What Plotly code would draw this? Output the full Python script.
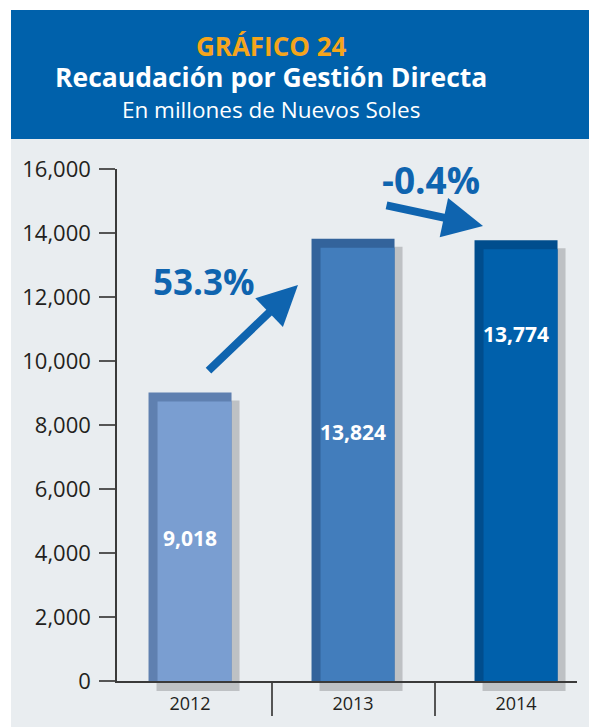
import plotly.graph_objects as go

# ---- data ----
years = ["2012", "2013", "2014"]
values = [9018, 13824, 13774]
value_labels = ["9,018", "13,824", "13,774"]
y_tickvals = [0, 2000, 4000, 6000, 8000, 10000, 12000, 14000, 16000]
y_ticktext = ["0", "2,000", "4,000", "6,000", "8,000", "10,000", "12,000", "14,000", "16,000"]
growth_labels = ["53.3%", "-0.4%"]

# ---- styles ----
W, H = 589, 727
light_colors = ["#7A9ED1", "#427DBC", "#0060AB"]
dark_colors = ["#5F80B0", "#33639B", "#004D8D"]
shadow_color = "#BEC1C4"
label_pos_frac = [0.496, 0.563, 0.787]
FONT = "Open Sans"

def fx(px):
    return px / W

def fy(py):
    return 1 - py / H

UPP = 31.25          # data units per pixel on y
XPP = 1 / 163.0      # category units per pixel on x
bar_w = 83 * XPP

fig = go.Figure()

fig.add_trace(go.Bar(
    x=years, y=[v - 8 * UPP + 10 * UPP for v in values], base=-10 * UPP,
    width=bar_w, offset=-bar_w / 2 + 8 * XPP,
    marker=dict(color=shadow_color, line=dict(width=0)), hoverinfo="skip",
    xaxis="x", yaxis="y"))
fig.add_trace(go.Bar(
    x=years, y=values, width=bar_w, offset=-bar_w / 2,
    marker=dict(color=dark_colors, line=dict(width=0)),
    xaxis="x", yaxis="y"))
fig.add_trace(go.Bar(
    x=years, y=[v - 9 * UPP for v in values], width=bar_w - 9 * XPP,
    offset=-bar_w / 2 + 9 * XPP,
    marker=dict(color=light_colors, line=dict(width=0)), hoverinfo="skip",
    xaxis="x", yaxis="y"))
fig.add_trace(go.Scatter(x=[years[0]], y=[None], mode="markers", showlegend=False,
                         hoverinfo="skip", xaxis="x", yaxis="y2"))

annotations = []
for i, (v, lab, f) in enumerate(zip(values, value_labels, label_pos_frac)):
    annotations.append(dict(x=i, y=v * f, xref="x", yref="y2", text=f"<b>{lab}</b>",
                            showarrow=False, font=dict(family=FONT, size=21, color="white"),
                            xanchor="center", yanchor="middle"))

header_text = ("<span style='color:#F5A51C;font-size:26px'><b>GRÁFICO 24</b></span><br>"
               "<span style='font-size:26.5px'><b>Recaudación por Gestión Directa</b></span><br>"
               "<span style='font-size:22.5px'>En millones de Nuevos Soles</span>")
annotations.append(dict(x=fx(271), y=fy(76.5), xref="paper", yref="paper", text=header_text,
                        showarrow=False, align="center",
                        font=dict(family=FONT, size=24, color="white"),
                        xanchor="center", yanchor="middle"))

blue = "#0F64AF"
annotations += [
    dict(x=fx(204), y=fy(282), xref="paper", yref="paper", text=f"<b>{growth_labels[0]}</b>",
         showarrow=False, font=dict(family=FONT, size=35, color=blue),
         xanchor="center", yanchor="middle"),
    dict(x=fx(431), y=fy(179), xref="paper", yref="paper", text=f"<b>{growth_labels[1]}</b>",
         showarrow=False, font=dict(family=FONT, size=37, color=blue),
         xanchor="center", yanchor="middle"),
    dict(x=fx(298), y=fy(285), xref="paper", yref="paper", text="", showarrow=True,
         ax=-91, ay=87, arrowhead=2, arrowsize=1.0, arrowwidth=8, arrowcolor=blue),
    dict(x=fx(483), y=fy(226), xref="paper", yref="paper", text="", showarrow=True,
         ax=-98, ay=-21, arrowhead=2, arrowsize=1.0, arrowwidth=8, arrowcolor=blue),
]

shapes = [
    dict(type="rect", xref="paper", yref="paper", x0=fx(11), x1=1, y0=0, y1=fy(139),
         fillcolor="#E9EDF0", line=dict(width=0), layer="below"),
    dict(type="rect", xref="paper", yref="paper", x0=fx(11), x1=1, y0=fy(139), y1=fy(10),
         fillcolor="#0061AB", line=dict(width=0), layer="below"),
]

fig.update_layout(
    width=W, height=H,
    margin=dict(l=0, r=0, t=0, b=0, pad=0, autoexpand=False),
    paper_bgcolor="white", plot_bgcolor="rgba(0,0,0,0)",
    barmode="overlay", showlegend=False,
    font=dict(family=FONT, color="#231F20"),
    xaxis=dict(domain=[fx(117), fx(577)], type="category", range=[-0.448, 2.374],
               anchor="y2", showline=True, linecolor="#3A3A3A", linewidth=2,
               ticks="outside", tickson="boundaries", ticklen=33, tickwidth=1.5,
               tickcolor="#555555", showgrid=False, zeroline=False, automargin=False,
               tickfont=dict(family=FONT, size=18, color="#231F20"),
               ticklabelstandoff=5, layer="above traces"),
    yaxis=dict(domain=[fy(691), fy(169)], range=[-10 * UPP, 16000], anchor="x",
               visible=False, showgrid=False, zeroline=False, automargin=False),
    yaxis2=dict(domain=[fy(681), fy(169)], range=[0, 16000], anchor="x",
                showline=True, linecolor="#3A3A3A", linewidth=1.5,
                ticks="outside", ticklen=16, tickwidth=1.5, tickcolor="#555555",
                tickvals=y_tickvals, ticktext=y_ticktext, showgrid=False, zeroline=False,
                automargin=False,
                tickfont=dict(family=FONT, size=22, color="#231F20"),
                ticklabelstandoff=4),
    annotations=annotations, shapes=shapes,
)

fig.write_html("out.html", config={"displayModeBar": False},
               post_script="document.body.style.margin='0';document.body.style.overflow='hidden';")
